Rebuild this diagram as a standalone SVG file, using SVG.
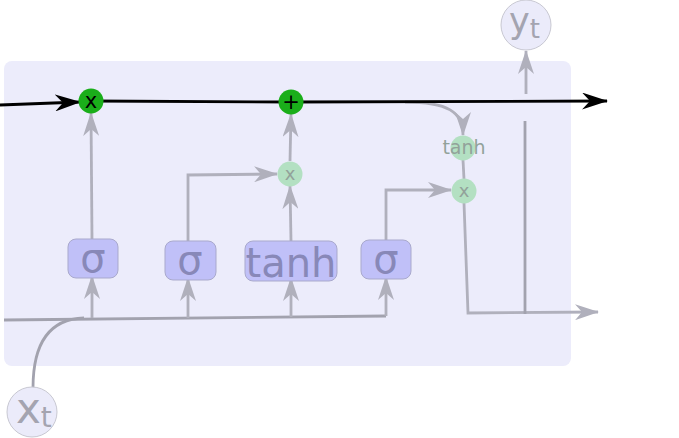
<svg xmlns="http://www.w3.org/2000/svg" width="679" height="438" viewBox="0 0 679 438">
<style>
.g{fill:none;stroke:#b0b0bc;stroke-width:2.8}
.gd{fill:none;stroke:#a2a2ae;stroke-width:2.8}
.k{fill:none;stroke:#000;stroke-width:2.8}
.box{fill:#c0c0f8;stroke:#a9a9cc;stroke-width:1}
.bt{font-family:"DejaVu Sans",sans-serif;font-size:40px;fill:#8888b8;text-anchor:middle}
.gc{fill:#1aae1a}
.gct{font-family:"DejaVu Sans",sans-serif;font-size:21px;fill:#000;text-anchor:middle}
.lc{fill:#b3e0c2}
.lct{font-family:"DejaVu Sans",sans-serif;fill:#92a29a;text-anchor:middle}
.io{fill:#ebebfa;stroke:#c8c8d2;stroke-width:1}
.iot{font-family:"DejaVu Sans",sans-serif;fill:#a4a4b0}
</style>
<defs>
<marker id="ag" viewBox="0 0 24 16" refX="23" refY="8" markerWidth="24" markerHeight="16" orient="auto" markerUnits="userSpaceOnUse"><path d="M0,0 L24,8 L0,16 L7,8 z" fill="#b0b0bc"/></marker>
<marker id="ak" viewBox="0 0 26 17" refX="25" refY="8.5" markerWidth="26" markerHeight="17" orient="auto" markerUnits="userSpaceOnUse"><path d="M0,0 L26,8.5 L0,17 L8,8.5 z" fill="#000"/></marker>
</defs>
<rect id="cell" x="4" y="61" width="567" height="305" rx="8" fill="#ececfb"/>
<g id="connectors">
<path class="gd" d="M4,320 L386,316"/>
<path class="gd" d="M33,388 C33,345 48,319 84,318"/>
<path class="g" d="M92,318 L92,276" marker-end="url(#ag)"/>
<path class="g" d="M188,318 L188,278" marker-end="url(#ag)"/>
<path class="g" d="M291,317 L291,278" marker-end="url(#ag)"/>
<path class="g" d="M386,316 L386,277" marker-end="url(#ag)"/>
<path class="g" d="M92,239 L91,113" marker-end="url(#ag)"/>
<path class="g" d="M188,241 L188,175 L277,174" marker-end="url(#ag)"/>
<path class="g" d="M291,241 L290,186" marker-end="url(#ag)"/>
<path class="g" d="M290,161 L291,114" marker-end="url(#ag)"/>
<path class="g" d="M386,240 L386,190 L451,190" marker-end="url(#ag)"/>
<path class="g" d="M405,102 C448,102 463,112 463,135" marker-end="url(#ag)"/>
<path class="g" d="M463,160 L464,179"/>
<path class="g" d="M464,203 L468,313 L598,312" marker-end="url(#ag)"/>
<path class="gd" d="M525,314 L525,121"/>
<path class="g" d="M526,94 L526,51" marker-end="url(#ag)"/>
<path class="k" d="M0,105 L80,102" marker-end="url(#ak)"/>
<path class="k" d="M91,101 L291,102 L607,101" marker-end="url(#ak)"/>
</g>
<g id="mul1"><circle class="gc" cx="91" cy="101" r="12.5"/><text class="gct" x="91" y="108">x</text></g>
<g id="add"><circle class="gc" cx="291" cy="102" r="12.5"/><text class="gct" x="291" y="109">+</text></g>
<g id="mul2"><circle class="lc" cx="290" cy="174" r="12.5"/><text class="lct" x="290" y="180" font-size="18">x</text></g>
<g id="tanh2"><circle class="lc" cx="463" cy="148" r="12.5"/><text class="lct" x="464" y="154" font-size="19">tanh</text></g>
<g id="mul3"><circle class="lc" cx="464" cy="191" r="12.5"/><text class="lct" x="464" y="197" font-size="18">x</text></g>
<g id="sig1"><rect class="box" x="68" y="239" width="50" height="39" rx="8"/><text class="bt" x="93" y="272">σ</text></g>
<g id="sig2"><rect class="box" x="165" y="241" width="51" height="39" rx="8"/><text class="bt" x="190" y="274">σ</text></g>
<g id="tanh1"><rect class="box" x="245" y="241" width="92" height="40" rx="8"/><text class="bt" x="291" y="277">tanh</text></g>
<g id="sig3"><rect class="box" x="361" y="240" width="50" height="39" rx="8"/><text class="bt" x="386" y="273">σ</text></g>
<g id="xt"><circle class="io" cx="32" cy="412" r="25"/><text class="iot" x="16" y="423" font-size="42">x<tspan font-size="28" dy="4">t</tspan></text></g>
<g id="yt"><circle class="io" cx="526" cy="25" r="25"/><text class="iot" x="509" y="33" font-size="35">y<tspan font-size="26" dy="5">t</tspan></text></g>
</svg>
